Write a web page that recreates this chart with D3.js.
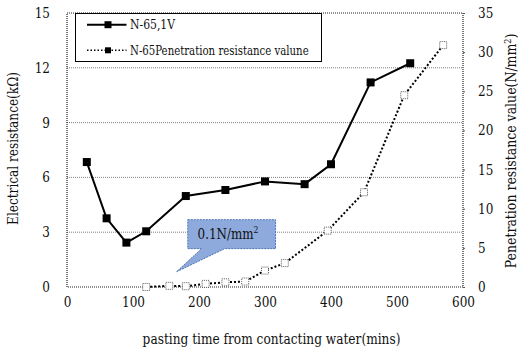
<!DOCTYPE html>
<html>
<head>
<meta charset="utf-8">
<script src="https://cdn.jsdelivr.net/npm/d3@7"></script>
<style>
  html, body { margin: 0; padding: 0; background: #fff; }
</style>
</head>
<body>
<svg id="chart" width="518" height="352"></svg>
<script>
// Electrical resistance of N-65 at 1V (kΩ) over pasting time (mins)
const resistTime  = [30, 60, 90, 120, 180, 240, 300, 360, 400, 460, 520];
const resistValue = [6.84, 3.76, 2.43, 3.05, 4.98, 5.31, 5.78, 5.63, 6.72, 11.2, 12.25];

// Penetration resistance of N-65 (N/mm²) over pasting time (mins)
const penTime  = [120, 155, 180, 210, 240, 270, 300, 330, 395, 450, 511, 570];
const penValue = [0, 0.15, 0.1, 0.4, 0.6, 0.7, 2.1, 3.05, 7.2, 12.1, 24.5, 30.9];

const xTicks      = [0, 100, 200, 300, 400, 500, 600];
const leftTicks   = [0, 3, 6, 9, 12, 15];
const rightTicks  = [0, 5, 10, 15, 20, 25, 30, 35];

const legendLabels = ["N-65,1V", "N-65Penetration resistance valune"];
const calloutText  = "0.1N/mm²";

const FONT = "DejaVu Serif";
// DejaVu Serif runs wide; squeeze glyphs horizontally toward a Times-like width
const SQUEEZE = 0.86;

const svg = d3.select("#chart").attr("font-family", FONT);
const plot = { left: 67, right: 463, top: 13, bottom: 287 };

const x  = d3.scaleLinear().domain([0, 600]).range([plot.left, plot.right]);
const yL = d3.scaleLinear().domain([0, 15]).range([plot.bottom, plot.top]);
const yR = d3.scaleLinear().domain([0, 35]).range([plot.bottom, plot.top]);

// place a text at (px,py), rotated, then stretch it to the wanted width
function fittedText(parent, px, py, rot, anchor, size, width, build) {
  const t = parent.append("text")
    .attr("text-anchor", anchor).attr("font-size", size)
    .attr("font-family", FONT).attr("fill", "#111");
  build(t);
  const w = t.node().getBBox().width;
  const sx = width ? width / w : SQUEEZE;
  t.attr("transform", `translate(${px},${py}) rotate(${rot}) scale(${sx},1)`);
  return t;
}

// horizontal grid lines at the left-axis ticks
svg.append("g")
  .selectAll("line")
  .data(leftTicks.filter(d => d > 0 && d < 15))
  .join("line")
  .attr("x1", plot.left).attr("x2", plot.right)
  .attr("y1", d => yL(d)).attr("y2", d => yL(d))
  .attr("stroke", "#808080").attr("stroke-width", 1)
  .attr("stroke-dasharray", "1,1");

// dotted frame around the plotting area
svg.append("rect")
  .attr("x", plot.left).attr("y", plot.top)
  .attr("width", plot.right - plot.left).attr("height", plot.bottom - plot.top)
  .attr("fill", "none").attr("stroke", "#222").attr("stroke-width", 1.2)
  .attr("stroke-dasharray", "1,1");

// shared tick-label styling: serif text squeezed about its anchor point
function styleTicks(g) {
  g.attr("font-family", FONT);
  g.select(".domain").remove();
  g.selectAll("text")
    .attr("font-size", 14).attr("fill", "#111").attr("font-family", FONT)
    .each(function () {
      const el = d3.select(this);
      const x0 = +el.attr("x") || 0;
      el.attr("x", x0 / SQUEEZE).attr("transform", `scale(${SQUEEZE},1)`);
    });
}

// bottom axis
svg.append("g")
  .attr("transform", `translate(0,${plot.bottom})`)
  .call(d3.axisBottom(x).tickValues(xTicks).tickSize(0).tickPadding(10))
  .call(styleTicks);

// left axis
svg.append("g")
  .attr("transform", `translate(${plot.left},0)`)
  .call(d3.axisLeft(yL).tickValues(leftTicks).tickSize(0).tickPadding(17))
  .call(styleTicks);

// right axis with small outward ticks
svg.append("g")
  .attr("transform", `translate(${plot.right},0)`)
  .call(d3.axisRight(yR).tickValues(rightTicks).tickSize(2).tickPadding(13))
  .call(styleTicks)
  .call(g => g.selectAll("line").attr("stroke", "#555"));

// axis titles
fittedText(svg, 271.5, 343.5, 0, "middle", 14, 258,
  t => t.text("pasting time from contacting water(mins)"));

fittedText(svg, 17.5, 148.5, -90, "middle", 14, 153,
  t => t.text("Electrical resistance(kΩ)"));

fittedText(svg, 516, 151, -90, "middle", 14, 235, t => {
  t.append("tspan").text("Penetration resistance value(N/mm");
  t.append("tspan").attr("font-size", 9).attr("dy", -5).text("2");
  t.append("tspan").attr("dy", 5).text(")");
});

// callout pointing at the 0.1 N/mm² point
const box = { x0: x(183), x1: x(316), y0: yR(8.6), y1: yR(4.9) };
const tip = { x: x(166), y: yR(1.95) };
const calloutPath = d3.path();
calloutPath.moveTo(box.x0, box.y0);
calloutPath.lineTo(box.x1, box.y0);
calloutPath.lineTo(box.x1, box.y1);
calloutPath.lineTo(x(239), box.y1);
calloutPath.lineTo(tip.x, tip.y);
calloutPath.lineTo(x(204), box.y1);
calloutPath.lineTo(box.x0, box.y1);
calloutPath.closePath();
svg.append("path")
  .attr("d", calloutPath.toString())
  .attr("fill", "#8eaadc").attr("stroke", "#4f74b3")
  .attr("stroke-width", 1).attr("stroke-dasharray", "2,1");
fittedText(svg, x(244), (box.y0 + box.y1) / 2 + 5, 0, "middle", 14, 61, t => {
  t.append("tspan").text(calloutText.slice(0, -1));
  t.append("tspan").attr("font-size", 9).attr("dy", -6).text("2");
});

// penetration resistance: dotted line with hollow dashed squares
const penPts = penTime.map((t, i) => [t, penValue[i]]);
svg.append("path")
  .datum(penPts)
  .attr("d", d3.line().x(d => x(d[0])).y(d => yR(d[1])))
  .attr("fill", "none").attr("stroke", "#000").attr("stroke-width", 2)
  .attr("stroke-dasharray", "2,2");
svg.append("g").selectAll("rect")
  .data(penPts).join("rect")
  .attr("x", d => x(d[0]) - 3.5).attr("y", d => yR(d[1]) - 3.5)
  .attr("width", 7).attr("height", 7)
  .attr("fill", "#fff").attr("stroke", "#333").attr("stroke-width", 0.8)
  .attr("stroke-dasharray", "1,1");

// electrical resistance: solid line with filled squares
const resPts = resistTime.map((t, i) => [t, resistValue[i]]);
svg.append("path")
  .datum(resPts)
  .attr("d", d3.line().x(d => x(d[0])).y(d => yL(d[1])))
  .attr("fill", "none").attr("stroke", "#000").attr("stroke-width", 2);
svg.append("g").selectAll("rect")
  .data(resPts).join("rect")
  .attr("x", d => x(d[0]) - 4).attr("y", d => yL(d[1]) - 4)
  .attr("width", 8).attr("height", 8).attr("fill", "#000");

// legend
const lg = svg.append("g");
lg.append("rect")
  .attr("x", 75.5).attr("y", 13.5).attr("width", 246).attr("height", 48)
  .attr("fill", "#fff").attr("stroke", "#000").attr("stroke-width", 1);
const legendWidths = [46, 179];
legendLabels.forEach((label, i) => {
  const yy = 24.7 + i * 25.6;
  lg.append("line")
    .attr("x1", 87).attr("x2", 126.5).attr("y1", yy).attr("y2", yy)
    .attr("stroke", "#000").attr("stroke-width", i === 0 ? 2 : 1.5)
    .attr("stroke-dasharray", i === 0 ? null : "1.5,2");
  const s = i === 0 ? 7 : 6;
  lg.append("rect")
    .attr("x", 108 - s / 2).attr("y", yy - s / 2).attr("width", s).attr("height", s)
    .attr("fill", "#000");
  fittedText(lg, 130, yy + 4.3, 0, "start", 12.5, legendWidths[i], t => t.text(label));
});
</script>
</body>
</html>
